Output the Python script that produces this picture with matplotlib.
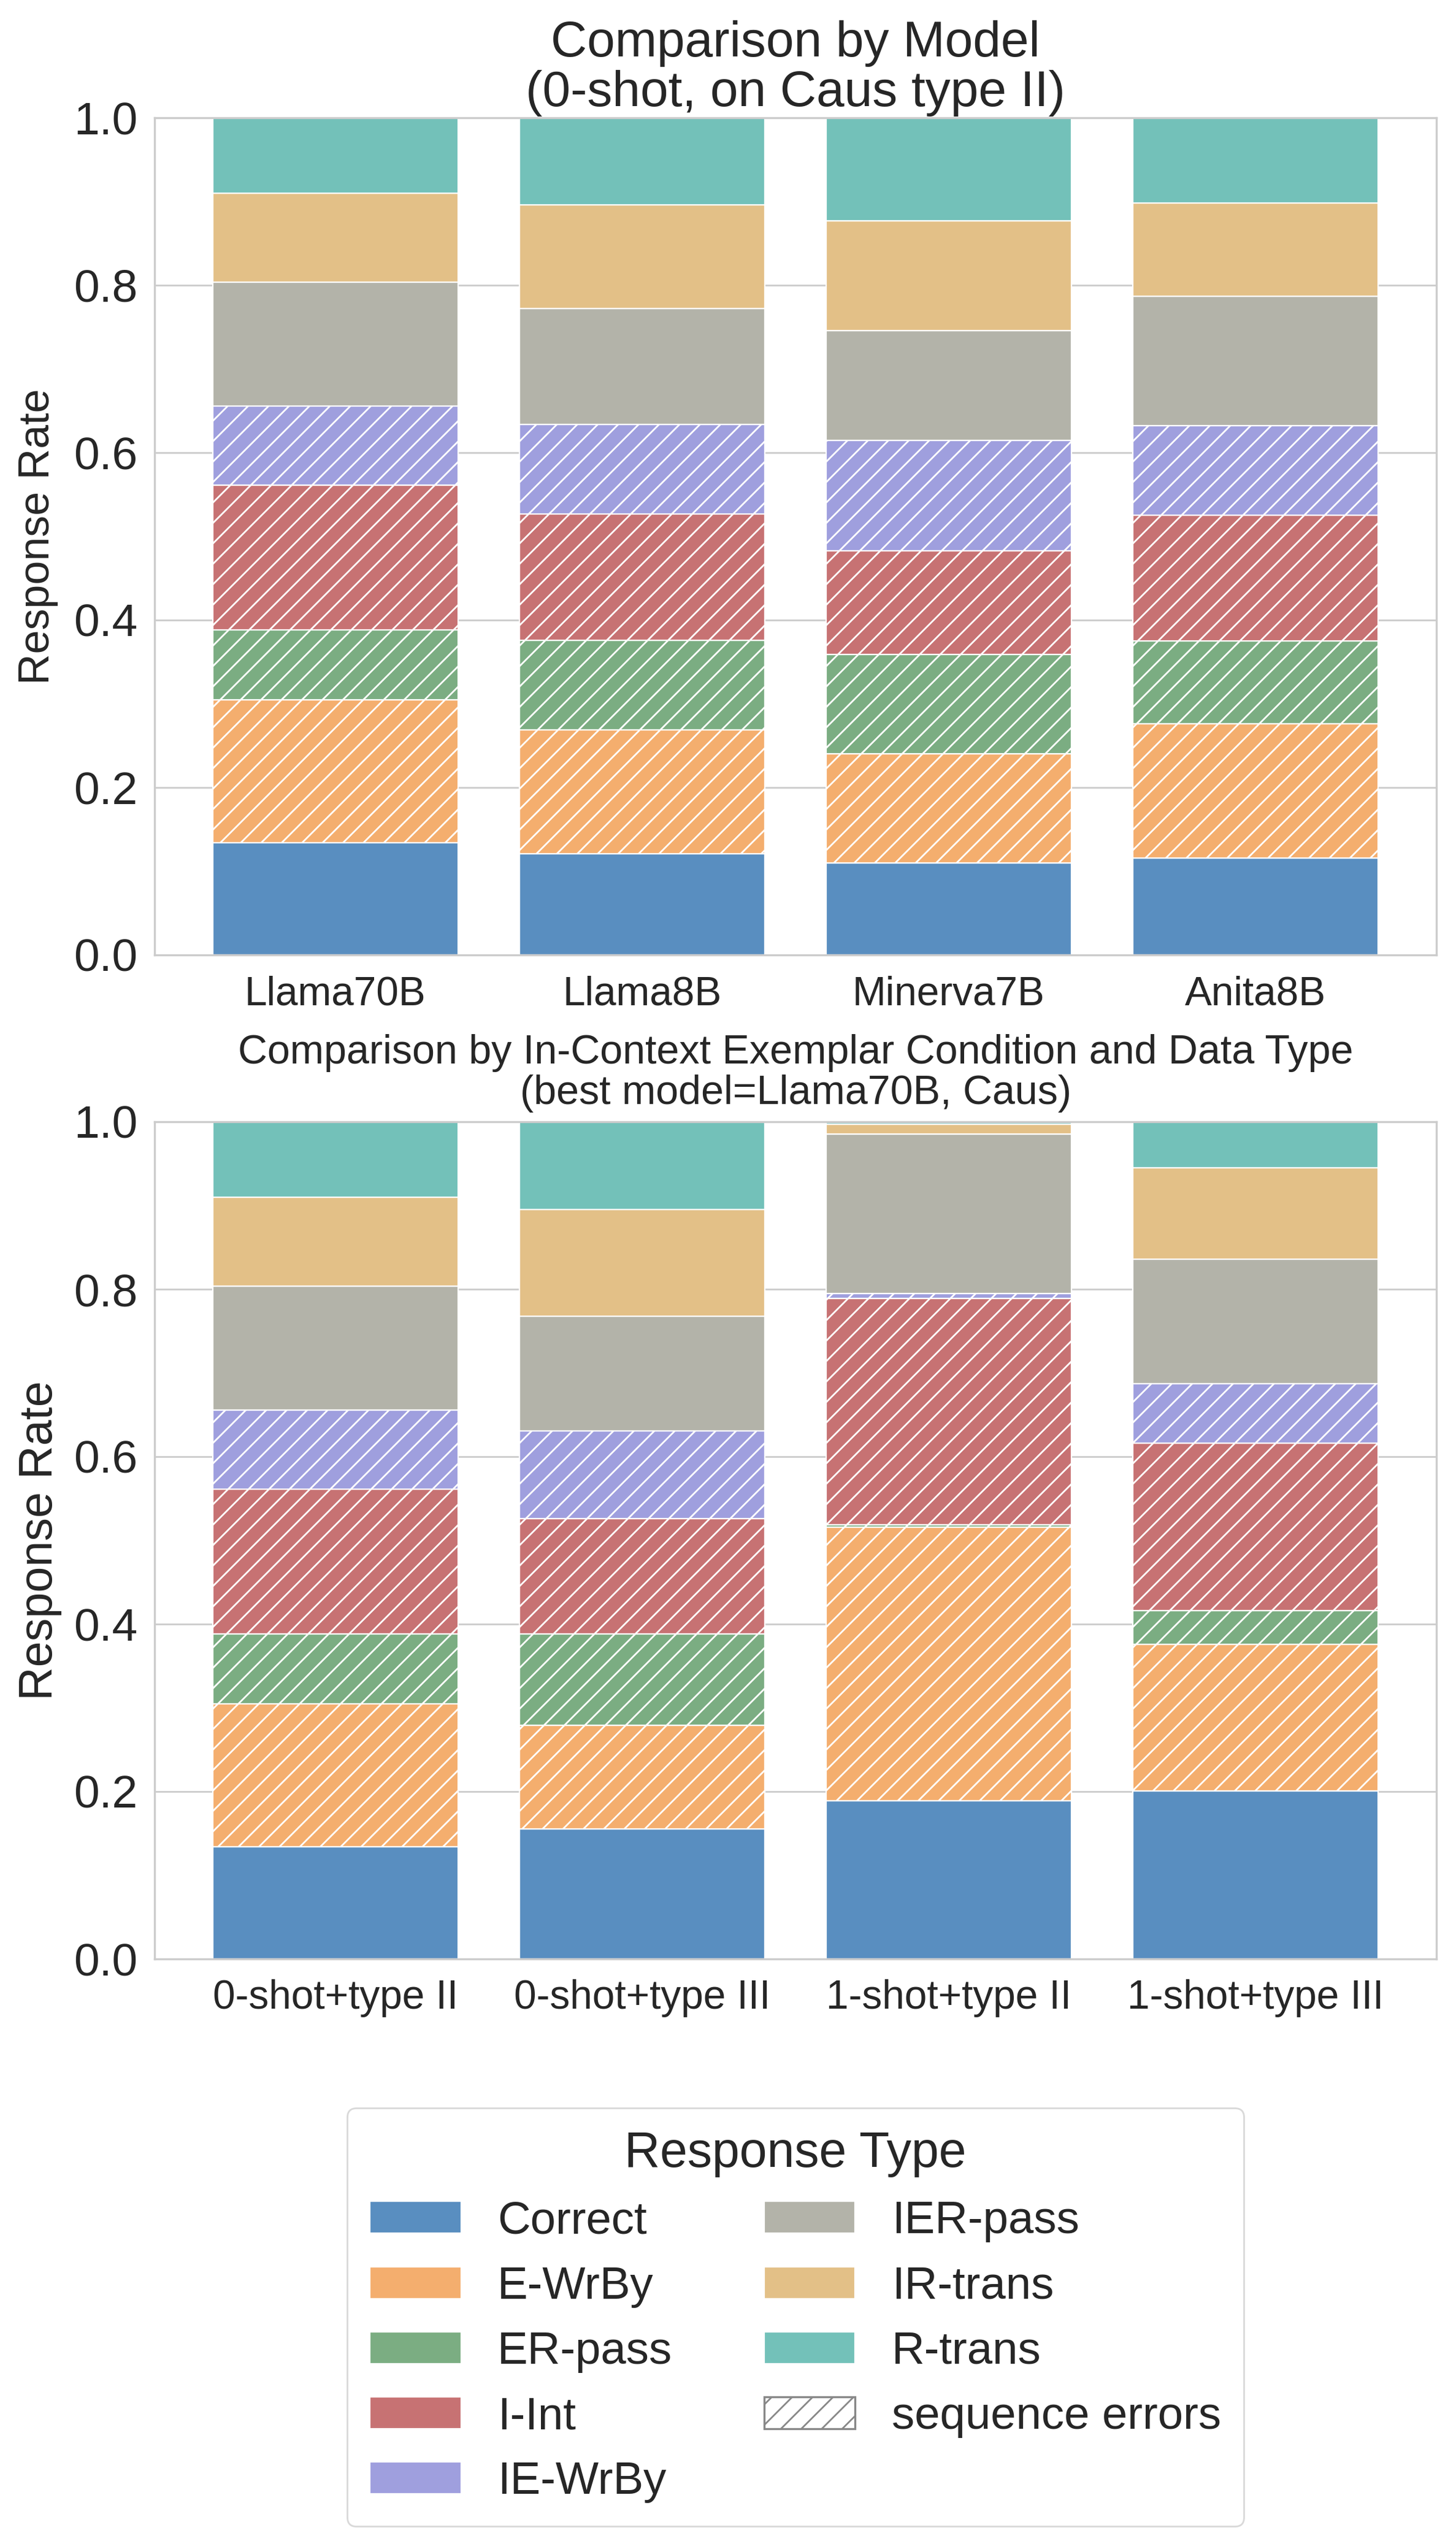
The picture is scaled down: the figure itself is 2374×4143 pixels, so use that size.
import numpy as np
import matplotlib
matplotlib.use('Agg')
import matplotlib.pyplot as plt
from matplotlib.patches import Patch

plt.rcParams['font.family'] = ['Liberation Sans', 'DejaVu Sans']
plt.rcParams['text.color'] = '#262626'
plt.rcParams['axes.labelcolor'] = '#262626'
plt.rcParams['xtick.color'] = '#262626'
plt.rcParams['ytick.color'] = '#262626'
plt.rcParams['hatch.linewidth'] = 1.0

# response types, bottom to top
types = ['Correct', 'E-WrBy', 'ER-pass', 'I-Int', 'IE-WrBy', 'IER-pass', 'IR-trans', 'R-trans']
colors = ['#598ec0', '#f4ae6e', '#7bad82', '#c77273', '#9f9fde', '#b3b3a9', '#e3c087', '#73c1b9']
seq_errors = ['E-WrBy', 'ER-pass', 'I-Int', 'IE-WrBy']

# top panel: 0-shot on Caus type II, by model
models = ['Llama70B', 'Llama8B', 'Minerva7B', 'Anita8B']
correct_m = [0.134, 0.121, 0.110, 0.116]
ewrby_m = [0.171, 0.148, 0.130, 0.160]
erpass_m = [0.083, 0.107, 0.119, 0.099]
iint_m = [0.173, 0.151, 0.124, 0.150]
iewrby_m = [0.095, 0.107, 0.132, 0.107]
ierpass_m = [0.148, 0.138, 0.131, 0.155]
irtrans_m = [0.106, 0.124, 0.131, 0.111]
rtrans_m = [0.090, 0.104, 0.123, 0.102]

# bottom panel: Llama70B by exemplar condition / data type
conditions = ['0-shot+type II', '0-shot+type III', '1-shot+type II', '1-shot+type III']
correct_c = [0.134, 0.155, 0.189, 0.201]
ewrby_c = [0.171, 0.124, 0.327, 0.175]
erpass_c = [0.083, 0.109, 0.003, 0.040]
iint_c = [0.173, 0.138, 0.270, 0.200]
iewrby_c = [0.095, 0.105, 0.006, 0.071]
ierpass_c = [0.148, 0.137, 0.190, 0.149]
irtrans_c = [0.106, 0.127, 0.012, 0.109]
rtrans_c = [0.090, 0.105, 0.003, 0.056]


def stacked(ax, labels, series, title, title_size, title_pad, xtick_size, ytick_size,
            ylabel_size, ylabelpad):
    '''
    Draws one stacked bar panel.
    '''
    x = np.arange(len(labels))
    bottom = np.zeros(len(labels))
    for name, col, vals in zip(types, colors, series):
        vals = np.array(vals)
        ax.bar(x, vals, bottom=bottom, width=0.8, color=col, edgecolor='white',
               linewidth=0.8, hatch='//' if name in seq_errors else None, zorder=2)
        bottom += vals
    ax.set_xticks(x)
    ax.set_xticklabels(labels, fontsize=xtick_size)
    ax.set_ylim(0, 1)
    ax.set_yticks(np.arange(0, 1.01, 0.2))
    ax.set_yticklabels([f'{v:.1f}' for v in np.arange(0, 1.01, 0.2)], fontsize=ytick_size)
    ax.set_ylabel('Response Rate', fontsize=ylabel_size, labelpad=ylabelpad)
    ax.set_title(title, fontsize=title_size, pad=title_pad, linespacing=1.08)
    ax.yaxis.grid(True, color='#cccccc', linewidth=1.0, zorder=0)
    ax.xaxis.grid(False)
    ax.set_axisbelow(True)
    ax.tick_params(axis='y', length=0, pad=10)
    ax.tick_params(axis='x', length=0, pad=12)
    for s in ax.spines.values():
        s.set_color('#cccccc')
        s.set_linewidth(1.2)


W, H = 2374, 4143
fig = plt.figure(figsize=(W / 200, H / 200), dpi=200)
ax1 = fig.add_axes([252 / W, 1 - 1557 / H, 2090 / W, 1365 / H])
ax2 = fig.add_axes([252 / W, 1 - 3194 / H, 2090 / W, 1365 / H])

stacked(ax1, models,
        [correct_m, ewrby_m, erpass_m, iint_m, iewrby_m, ierpass_m, irtrans_m, rtrans_m],
        'Comparison by Model\n(0-shot, on Caus type II)', 29.5, 7, 23.7, 27, 25.2, 9)
stacked(ax2, conditions,
        [correct_c, ewrby_c, erpass_c, iint_c, iewrby_c, ierpass_c, irtrans_c, rtrans_c],
        'Comparison by In-Context Exemplar Condition and Data Type\n(best model=Llama70B, Caus)',
        23.9, 10.5, 23.7, 27, 27.2, 7)

handles = [Patch(facecolor=c, edgecolor='white', linewidth=0.8, label=t) for t, c in zip(types, colors)]
handles.append(Patch(facecolor='white', edgecolor='#888888', hatch='//', linewidth=1.2,
                     label='sequence errors'))
leg = fig.legend(handles=handles, title='Response Type', ncol=2, loc='upper center',
                 bbox_to_anchor=(1297 / W, 1 - 3437 / H), borderaxespad=0,
                 fontsize=26.8, title_fontsize=29,
                 frameon=True, fancybox=True, framealpha=1, edgecolor='#d9d9d9',
                 labelspacing=0.5, columnspacing=2.0, borderpad=0.5)
leg.get_frame().set_linewidth(1.0)

fig.savefig('out.png', dpi=200)
